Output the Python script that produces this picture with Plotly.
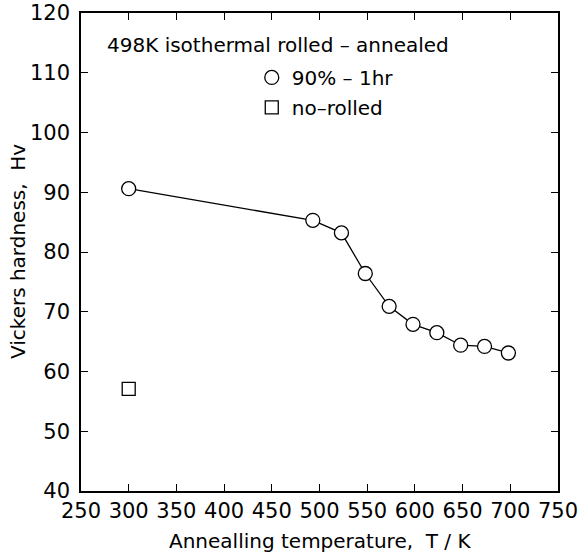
import plotly.graph_objects as go

# Data
temp_rolled = [300, 493, 523, 548, 573, 598, 623, 648, 673, 698]
hv_rolled = [90.6, 85.3, 83.2, 76.4, 70.9, 67.9, 66.5, 64.4, 64.2, 63.1]
temp_norolled = [300]
hv_norolled = [57.1]

x_ticks = [250, 300, 350, 400, 450, 500, 550, 600, 650, 700, 750]
y_ticks = [40, 50, 60, 70, 80, 90, 100, 110, 120]

FONT = "DejaVu Sans"

fig = go.Figure()
fig.add_trace(go.Scatter(
    x=temp_rolled, y=hv_rolled, mode="lines",
    line=dict(color="black", width=1.3), showlegend=False, hoverinfo="skip"))
fig.add_trace(go.Scatter(
    x=temp_rolled, y=hv_rolled, mode="markers", name="90% – 1hr",
    legendgroup="a",
    marker=dict(symbol="circle", size=14, color="white",
                line=dict(color="black", width=1.3))))
fig.add_trace(go.Scatter(
    x=temp_norolled, y=hv_norolled, mode="markers", name="no–rolled",
    legendgroup="b",
    marker=dict(symbol="square", size=13, color="white",
                line=dict(color="black", width=1.3))))

axis_common = dict(
    showline=True, linecolor="black", linewidth=1.5, mirror="ticks",
    ticks="inside", ticklen=7, tickwidth=1.2, tickcolor="black",
    showgrid=False, zeroline=False, automargin=False,
    tickfont=dict(family=FONT, size=21, color="black"),
)

fig.update_layout(
    width=582, height=559,
    margin=dict(l=81, r=24, t=13, b=68),
    paper_bgcolor="white", plot_bgcolor="white",
    font=dict(family=FONT, size=20, color="black"),
    xaxis=dict(range=[250, 750], tickvals=x_ticks,
               ticklabelstandoff=0, **axis_common),
    yaxis=dict(range=[40, 120], tickvals=y_ticks,
               ticklabelstandoff=5, **axis_common),
    legend=dict(x=0.358, y=0.906, xanchor="left", yanchor="top",
                bgcolor="rgba(0,0,0,0)", borderwidth=0,
                font=dict(family=FONT, size=20), tracegroupgap=1,
                itemsizing="trace"),
    annotations=[
        dict(text="498K isothermal rolled – annealed", x=0.05, y=0.933,
             xref="paper", yref="paper", xanchor="left", yanchor="middle",
             showarrow=False, font=dict(family=FONT, size=20, color="black")),
        dict(text="Annealling temperature,\u00a0 T / K", x=0.5, y=-0.1046,
             xref="paper", yref="paper", xanchor="center", yanchor="middle",
             showarrow=False, font=dict(family=FONT, size=20, color="black")),
        dict(text="Vickers hardness,\u00a0 Hv", x=-0.132, y=0.5, textangle=-90,
             xref="paper", yref="paper", xanchor="center", yanchor="middle",
             showarrow=False, font=dict(family=FONT, size=20, color="black")),
    ],
)

fig.write_html(
    "out.html",
    config={"displayModeBar": False},
    post_script="document.body.style.margin='0';document.body.style.overflow='hidden';",
)
